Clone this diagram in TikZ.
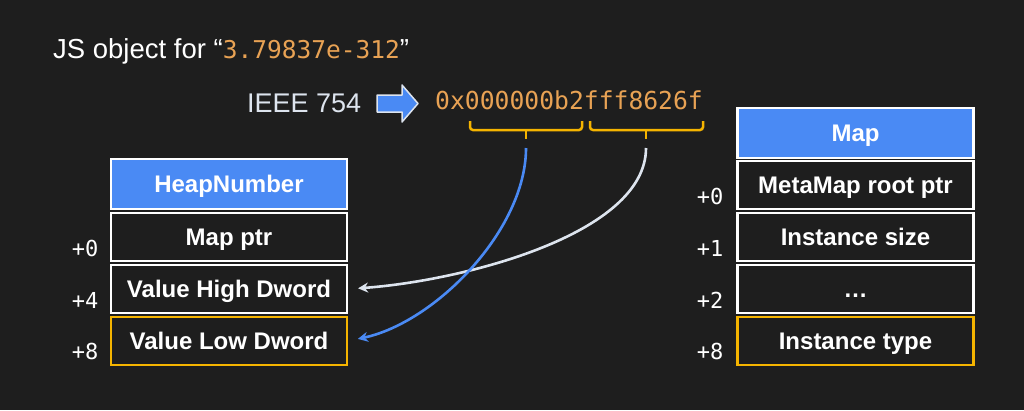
\documentclass[tikz,border=0pt]{standalone}
\usepackage{fontspec}
\setmainfont{Liberation Sans}
\setmonofont{DejaVu Sans Mono}
\usetikzlibrary{arrows.meta}
\definecolor{bg}{RGB}{30,30,30}
\definecolor{hdr}{RGB}{74,138,244}
\definecolor{amber}{RGB}{245,180,0}
\definecolor{num}{RGB}{232,162,84}
\definecolor{pale}{RGB}{221,228,238}
\begin{document}
\begin{tikzpicture}[x=1pt,y=-1pt,
  cell/.style={draw=white,line width=2.2pt,fill=bg,text=white,minimum width=236pt,minimum height=48pt,inner sep=0pt,text height=17pt,text depth=0pt,font=\fontsize{24}{24}\selectfont\bfseries},
  head/.style={cell,fill=hdr,minimum height=50pt},
  off/.style={anchor=base east,text=white,font=\fontsize{22}{22}\selectfont\ttfamily},
  brace/.style={amber,line width=2.5pt,rounded corners=3pt},
  link/.style={line width=2.6pt,-{Stealth[length=10pt,width=10pt]},shorten >=10pt}]
\fill[bg](0,0) rectangle (1024,410);
\useasboundingbox(0,0) rectangle (1024,410);
\node[anchor=base west,text=white,inner sep=0pt,font=\fontsize{27.5}{27.5}\selectfont](title) at (53,58){JS object for “{\color{num}\fontsize{24.5}{24.5}\selectfont\ttfamily 3.79837e-312}”};
\node[anchor=base west,text=pale,inner sep=0pt,font=\fontsize{27}{27}\selectfont](ieee) at (247,112){IEEE 754};
\draw[fill=hdr,draw=pale,line width=1.5pt,line join=round](377,95)--(402,95)--(402,85)--(418,103.5)--(402,122)--(402,112)--(377,112)--cycle;
\node[anchor=base west,text=num,inner sep=0pt,font=\fontsize{24.7}{24.7}\selectfont\ttfamily](hex) at (435,109){0x000000b2fff8626f};
\draw[brace](470,121)--(470,130)--(582,130)--(582,121);
\draw[brace](526,130)--(526,139);
\draw[brace](590,121)--(590,130)--(703,130)--(703,121);
\draw[brace](646,130)--(646,139);
\coordinate(lotip) at (526,148);
\coordinate(hitip) at (646,148);
\node[head](hn) at (229,184){HeapNumber};
\node[cell](hn0) at (229,237){Map ptr};
\node[cell](hn4) at (229,289){Value High Dword};
\node[cell,draw=amber](hn8) at (229,341){Value Low Dword};
\node[off](o0) at (102,256){+0};
\node[off](o4) at (102,308){+4};
\node[off](o8) at (102,359){+8};
\node[head](mp) at (855.5,133){Map};
\node[cell](mp0) at (855.5,185){MetaMap root ptr};
\node[cell](mp1) at (855.5,237){Instance size};
\node[cell](mp2) at (855.5,289){\dots};
\node[cell,draw=amber](mp8) at (855.5,341){Instance type};
\node[off](r0) at (727,204){+0};
\node[off](r1) at (727,256){+1};
\node[off](r2) at (727,308){+2};
\node[off](r8) at (727,359){+8};
\draw[link,pale](hitip) to[out=-90,in=4,out distance=87pt,in distance=112pt] (hn4.east);
\draw[link,hdr](lotip) to[out=-90,in=12,out distance=82pt,in distance=89pt] (hn8.east);
\end{tikzpicture}
\end{document}
